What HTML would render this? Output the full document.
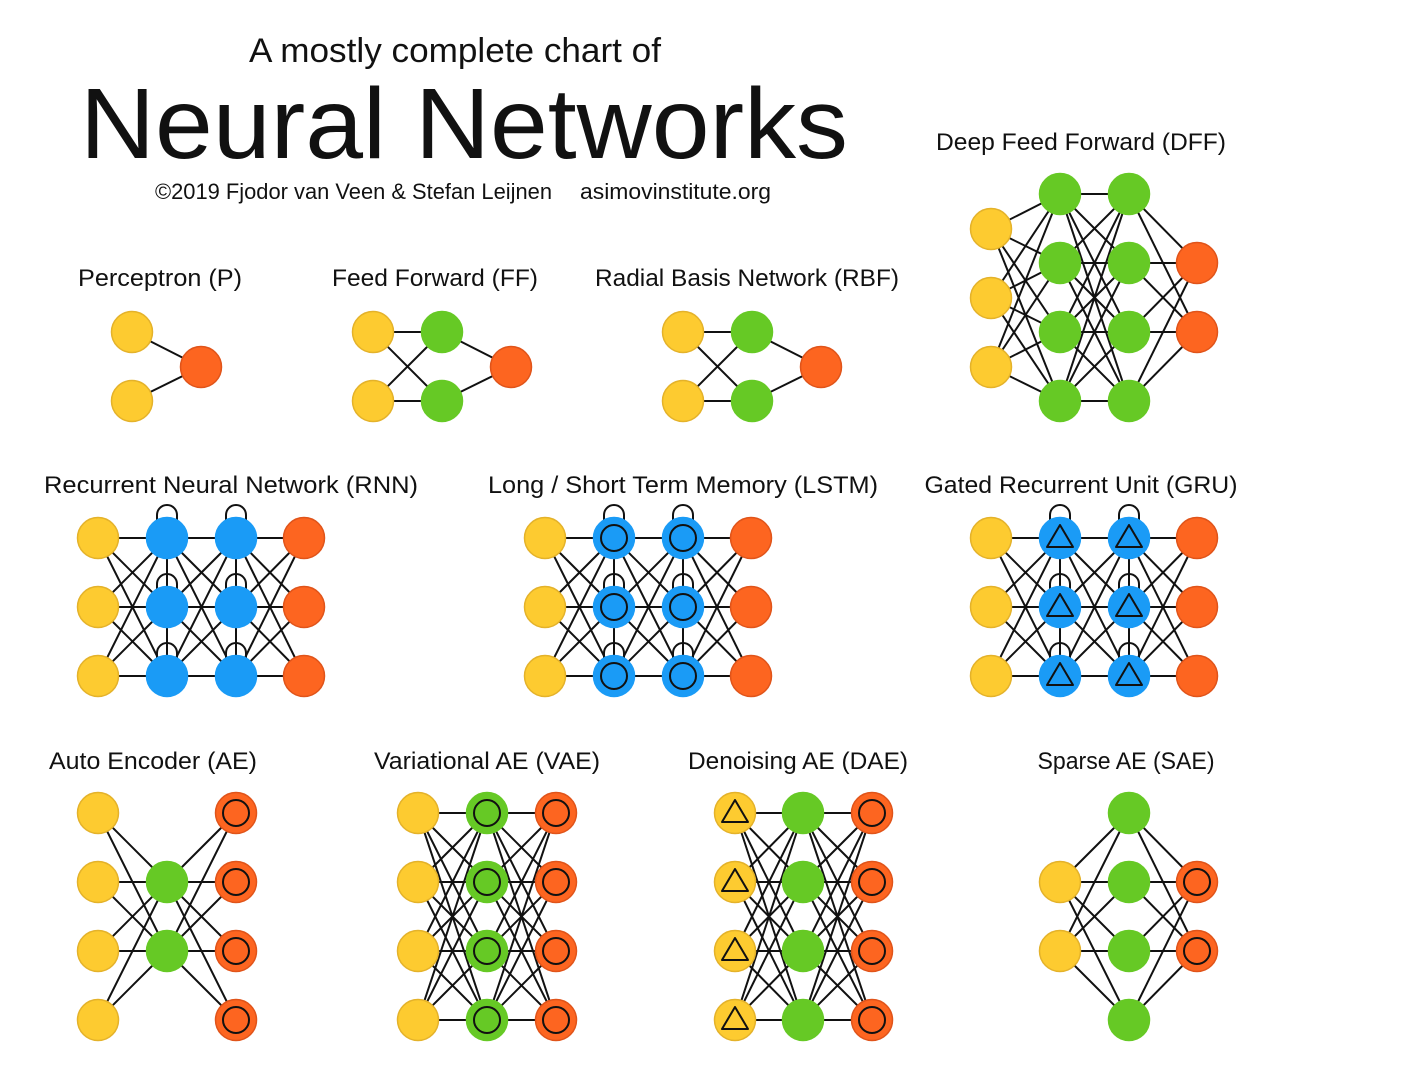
<!DOCTYPE html>
<html><head><meta charset="utf-8"><style>html,body{margin:0;padding:0;background:#fff}svg{display:block}text{font-family:"Liberation Sans",sans-serif;fill:#111}</style></head>
<body>
<svg id="s" width="1428" height="1076" viewBox="0 0 1428 1076" xmlns="http://www.w3.org/2000/svg">
<rect width="1428" height="1076" fill="#fff"/>
<text x="455" y="62" font-size="34" text-anchor="middle" textLength="412" lengthAdjust="spacingAndGlyphs">A mostly complete chart of</text>
<text x="80" y="158" font-size="100" textLength="768" lengthAdjust="spacingAndGlyphs">Neural Networks</text>
<text x="155" y="199" font-size="22" textLength="397" lengthAdjust="spacingAndGlyphs">©2019 Fjodor van Veen &amp; Stefan Leijnen</text>
<text x="580" y="199" font-size="22" textLength="191" lengthAdjust="spacingAndGlyphs">asimovinstitute.org</text>
<g font-size="24" text-anchor="middle">
<text x="160" y="286" textLength="164" lengthAdjust="spacingAndGlyphs">Perceptron (P)</text>
<text x="435" y="286" textLength="206" lengthAdjust="spacingAndGlyphs">Feed Forward (FF)</text>
<text x="747" y="286" textLength="304" lengthAdjust="spacingAndGlyphs">Radial Basis Network (RBF)</text>
<text x="1081" y="150" textLength="290" lengthAdjust="spacingAndGlyphs">Deep Feed Forward (DFF)</text>
<text x="231" y="493" textLength="374" lengthAdjust="spacingAndGlyphs">Recurrent Neural Network (RNN)</text>
<text x="683" y="493" textLength="390" lengthAdjust="spacingAndGlyphs">Long / Short Term Memory (LSTM)</text>
<text x="1081" y="493" textLength="313" lengthAdjust="spacingAndGlyphs">Gated Recurrent Unit (GRU)</text>
<text x="153" y="769" textLength="208" lengthAdjust="spacingAndGlyphs">Auto Encoder (AE)</text>
<text x="487" y="769" textLength="226" lengthAdjust="spacingAndGlyphs">Variational AE (VAE)</text>
<text x="798" y="769" textLength="220" lengthAdjust="spacingAndGlyphs">Denoising AE (DAE)</text>
<text x="1126" y="769" textLength="177" lengthAdjust="spacingAndGlyphs">Sparse AE (SAE)</text>
</g>
<g id="lines" stroke="#111" stroke-width="2" fill="none"></g>
<g id="nodes"></g>
</svg>
<script>
var NS="http://www.w3.org/2000/svg",L=document.getElementById('lines'),N=document.getElementById('nodes');
var C={y:['#FDCB30','#E4B22A'],g:['#66C925','#66C925'],b:['#1A9BF6','#1A9BF6'],o:['#FD6520','#E0541A']};
function el(p,t,a){var e=document.createElementNS(NS,t);for(var k in a)e.setAttribute(k,a[k]);p.appendChild(e);return e;}
function line(a,b){el(L,'line',{x1:a[0],y1:a[1],x2:b[0],y2:b[1]});}
function node(x,y,c,m){el(N,'circle',{cx:x,cy:y,r:20.5,fill:C[c][0],stroke:C[c][1],'stroke-width':1.5});
 if(m=='o')el(N,'circle',{cx:x,cy:y,r:13,fill:'none',stroke:'#111','stroke-width':2});
 if(m=='t')el(N,'polygon',{points:(x-13)+','+(y+9)+' '+(x+13)+','+(y+9)+' '+x+','+(y-13),fill:'none',stroke:'#111','stroke-width':2,'stroke-linejoin':'round'});}
function loop(x,y){el(L,'path',{d:'M'+(x-10)+' '+(y-16)+' v-7 a10 10 0 0 1 20 0 v7'});}
function net(layers){ // layers: [{x, ys, c, m, rec}]
 for(var i=0;i<layers.length-1;i++){var A=layers[i],B=layers[i+1];
  A.ys.forEach(function(ya){B.ys.forEach(function(yb){line([A.x,ya],[B.x,yb]);});});}
 layers.forEach(function(l){ if(l.rec){ for(var j=0;j<l.ys.length-1;j++)line([l.x,l.ys[j]],[l.x,l.ys[j+1]]); l.ys.forEach(function(y){loop(l.x,y);}); }
  l.ys.forEach(function(y){node(l.x,y,l.c,l.m);});});}
var Y2=[332,401],Y3=[538,607,676],Y4=[813,882,951,1020],Y2b=[882,951];
net([{x:132,ys:Y2,c:'y'},{x:201,ys:[367],c:'o'}]);
net([{x:373,ys:Y2,c:'y'},{x:442,ys:Y2,c:'g'},{x:511,ys:[367],c:'o'}]);
net([{x:683,ys:Y2,c:'y'},{x:752,ys:Y2,c:'g'},{x:821,ys:[367],c:'o'}]);
net([{x:991,ys:[229,298,367],c:'y'},{x:1060,ys:[194,263,332,401],c:'g'},{x:1129,ys:[194,263,332,401],c:'g'},{x:1197,ys:[263,332],c:'o'}]);
net([{x:98,ys:Y3,c:'y'},{x:167,ys:Y3,c:'b',rec:1},{x:236,ys:Y3,c:'b',rec:1},{x:304,ys:Y3,c:'o'}]);
net([{x:545,ys:Y3,c:'y'},{x:614,ys:Y3,c:'b',m:'o',rec:1},{x:683,ys:Y3,c:'b',m:'o',rec:1},{x:751,ys:Y3,c:'o'}]);
net([{x:991,ys:Y3,c:'y'},{x:1060,ys:Y3,c:'b',m:'t',rec:1},{x:1129,ys:Y3,c:'b',m:'t',rec:1},{x:1197,ys:Y3,c:'o'}]);
net([{x:98,ys:Y4,c:'y'},{x:167,ys:Y2b,c:'g'},{x:236,ys:Y4,c:'o',m:'o'}]);
net([{x:418,ys:Y4,c:'y'},{x:487,ys:Y4,c:'g',m:'o'},{x:556,ys:Y4,c:'o',m:'o'}]);
net([{x:735,ys:Y4,c:'y',m:'t'},{x:803,ys:Y4,c:'g'},{x:872,ys:Y4,c:'o',m:'o'}]);
net([{x:1060,ys:Y2b,c:'y'},{x:1129,ys:Y4,c:'g'},{x:1197,ys:Y2b,c:'o',m:'o'}]);
</script>
</body></html>
